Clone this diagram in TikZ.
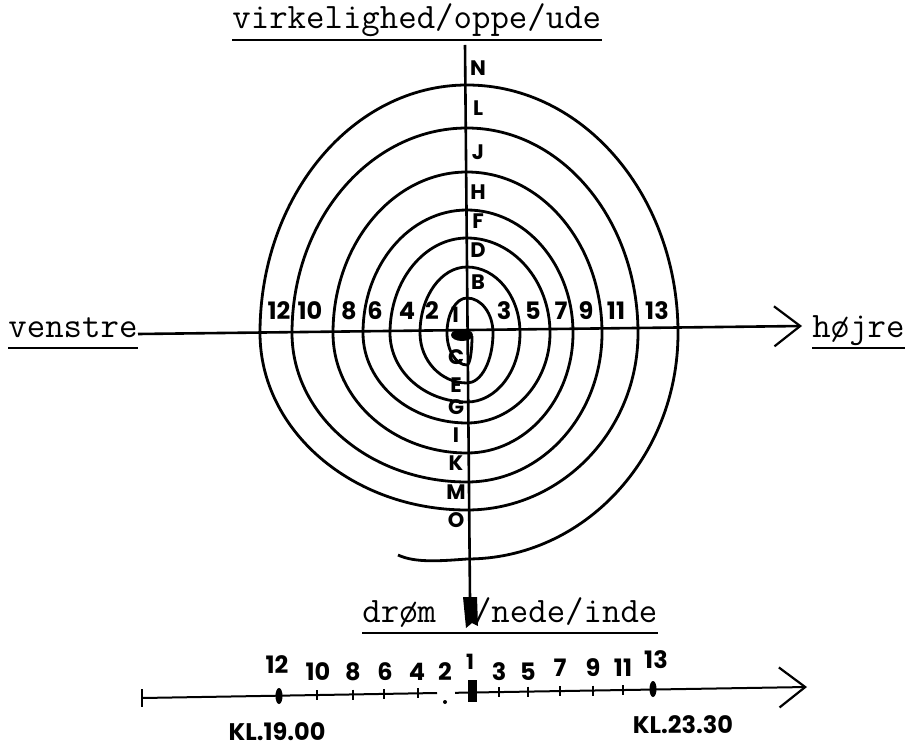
\documentclass[tikz,border=0pt]{standalone}
\usepackage{fontspec}
\newfontfamily\handfont{Poppins}
\usetikzlibrary{arrows.meta}
\tikzset{
  spaxis/.style={black, line width=1.3pt},
  spcurve/.style={black, line width=1.4pt, line join=round},
  sptype/.style={font=\ttfamily\fontsize{17.9}{20}\selectfont, inner sep=0pt, anchor=base west},
  sphand/.style={font=\handfont\bfseries\fontsize{12}{13}\selectfont, inner sep=0pt},
  splet/.style={font=\handfont\bfseries\fontsize{10.5}{11}\selectfont, inner sep=0pt},
  spuline/.style={black, line width=0.9pt},
  sptick/.style={black, line width=1pt},
  sparrow/.style={-{Straight Barb[length=13pt,width=20pt,line width=1.1pt]}},
}

\begin{document}
\begin{tikzpicture}[x=0.5pt,y=-0.5pt]
  \useasboundingbox (0,0) rectangle (908,748);

  % maskinskrevne retninger
  \node[sptype] (lblup)    at (232,29)  {virkelighed/oppe/ude};
  \node[sptype] (lblleft)  at (8,337)   {venstre};
  \node[sptype] (lblright) at (812,337) {højre};
  \node[sptype] (lbldown)  at (362,622) {drøm\ \ /nede/inde};
  \foreach \n in {lblup,lblleft,lblright,lbldown}
    \draw[spuline] ([yshift=-5.5pt]\n.base west) -- ([yshift=-5.5pt]\n.base east);

  % akser
  \coordinate (vtop)   at (465,45);
  \coordinate (vbot)   at (470,600);
  \coordinate (hleft)  at (138,334);
  \coordinate (hright) at (802,326);
  \draw[spaxis] (vtop) -- (vbot);
  \draw[spaxis, sparrow] (hleft) -- (hright);
  \fill (463,597) -- (477,597) -- (478,626) -- (472,623) -- (466,628) -- cycle;
  \fill (462,335) ellipse [x radius=11, y radius=6];

  % spiralen, en kvart omgang ad gangen
  \draw[spcurve] (472,336) arc[start angle=0, end angle=90, x radius=5, y radius=29]
    \foreach \b/\l/\t/\r/\n in {32/20/35/26/50, 50/47/66/53/69, 69/77/95/83/90,
        90/104/123/106/120, 120/134/161/135/149, 149/175/205/171/177,
        177/207/248/211/226}
    { arc[start angle=90,  end angle=180, x radius=\l, y radius=\b]
      arc[start angle=180, end angle=270, x radius=\l, y radius=\t]
      arc[start angle=270, end angle=360, x radius=\r, y radius=\t]
      arc[start angle=0,   end angle=90,  x radius=\r, y radius=\n] }
    .. controls (440,561) and (415,563) .. (398,555);

  % tal og bogstaver i spiralen
  \foreach \t/\x in {12/279,10/310,8/349,6/375,4/407,2/432,
                     3/504,5/533,7/561,9/586,11/616,13/657}
    \node[sphand] (n\t) at (\x,311) {\t};
  \node[splet] (n1) at (455,315) {1};
  \foreach \t/\y in {N/68,L/108,J/152,H/192,F/221,D/250,B/282}
    \node[splet] (l\t) at (478,\y) {\t};
  \foreach \t/\y in {C/357,E/385,G/407,I/435,K/463,M/492,O/520}
    \node[splet] (l\t) at (456,\y) {\t};

  % tidslinjen
  \coordinate (tstart) at (142,698);
  \coordinate (tgapa)  at (437,693);
  \coordinate (tgapb)  at (455,692.8);
  \coordinate (tend)   at (807,687);
  \draw[sptick] (tstart) -- (tgapa);
  \draw[sptick, sparrow] (tgapb) -- (tend);
  \draw[sptick, line width=1.4pt] (142,689) -- (142,707);
  \foreach \x in {317,353,384,418,499,528,560,593,623}
    \draw[sptick] (\x,{698-(\x-142)*11/665-5}) -- ++(0,10);
  \fill (279,696) ellipse [x radius=3.5, y radius=8];
  \fill (653,689) ellipse [x radius=3.5, y radius=8];
  \fill (468,680) rectangle (477,702);
  \fill (445,702) circle [radius=2];
  \foreach \t/\x/\y in {12/277/665,10/318/672,8/353/672,6/385/672,4/417/672,
                        2/445/672,3/499/672,5/528/672,7/560/668,9/593/668,
                        11/623/668,13/656/660}
    \node[sphand] (t\t) at (\x,\y) {\t};
  \node[splet] (t1) at (470,662) {1};
  \node[sphand] (kla) at (277,732) {KL.19.00};
  \node[sphand] (klb) at (683,725) {KL.23.30};
\end{tikzpicture}
\end{document}
